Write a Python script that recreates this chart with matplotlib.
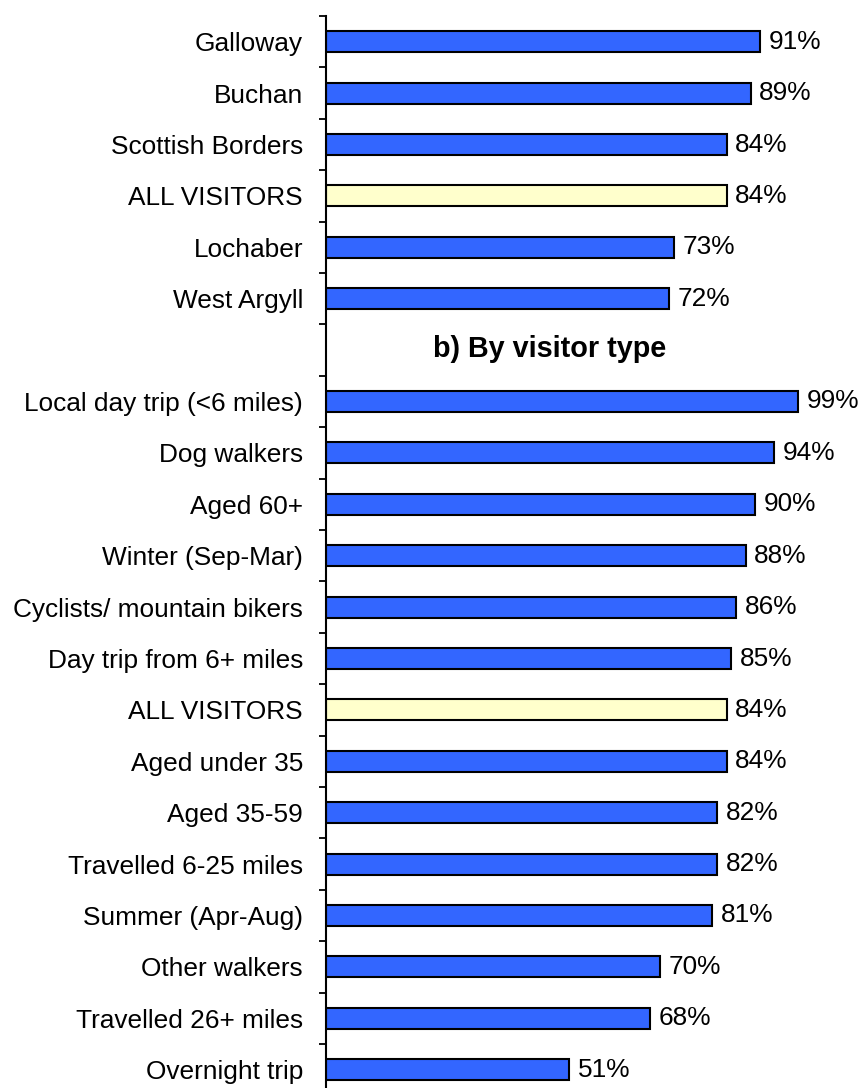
import matplotlib
matplotlib.use("Agg")
import matplotlib.pyplot as plt
import numpy as np

plt.rcParams['font.family'] = ['Liberation Sans', 'DejaVu Sans']

region_labels = ["Galloway", "Buchan", "Scottish Borders", "ALL VISITORS", "Lochaber", "West Argyll"]
region_values = [91, 89, 84, 84, 73, 72]

section_title = "b) By visitor type"

type_labels = ["Local day trip (<6 miles)", "Dog walkers", "Aged 60+", "Winter (Sep-Mar)",
               "Cyclists/ mountain bikers", "Day trip from 6+ miles", "ALL VISITORS",
               "Aged under 35", "Aged 35-59", "Travelled 6-25 miles", "Summer (Apr-Aug)",
               "Other walkers", "Travelled 26+ miles", "Overnight trip"]
type_values = [99, 94, 90, 88, 86, 85, 84, 84, 82, 82, 81, 70, 68, 51]

BLUE = "#3366FF"
CREAM = "#FFFFCC"

labels = region_labels + [""] + type_labels
values = region_values + [None] + type_values
n = len(labels)

W, H = 861, 1088
fig = plt.figure(figsize=(W / 100, H / 100), dpi=100)
slot = 51.4
top_px = 16
left_px = 326
width_px = 477
ax_h = n * slot
ax = fig.add_axes([left_px / W, (H - top_px - ax_h) / H, width_px / W, ax_h / H])

fs = 18.9
for i, (lab, v) in enumerate(zip(labels, values)):
    if v is None:
        continue
    color = CREAM if lab == "ALL VISITORS" else BLUE
    ax.barh(i, v, height=0.41, color=color, edgecolor="black", linewidth=1.5)
    ax.text(v + 1.8, i, f"{v}%", va="center", ha="left", fontsize=fs, clip_on=False)

header_idx = len(region_labels)
ax.text(46.9, header_idx - 0.02, section_title, ha="center", va="center",
        fontsize=20.7, fontweight="bold")

ax.set_xlim(0, 100)
ax.set_ylim(n - 0.5, -0.5)
ax.set_yticks(np.arange(n))
ax.set_yticklabels(labels, fontsize=fs)
ax.set_yticks(np.arange(n + 1) - 0.5, minor=True)
ax.tick_params(axis="y", which="major", length=0, pad=16.5)
ax.tick_params(axis="y", which="minor", length=5, width=1.3, direction="out")
ax.set_xticks([])
for s in ["top", "right", "bottom"]:
    ax.spines[s].set_visible(False)
ax.spines["left"].set_linewidth(1.5)

fig.savefig("out.png", dpi=100)
